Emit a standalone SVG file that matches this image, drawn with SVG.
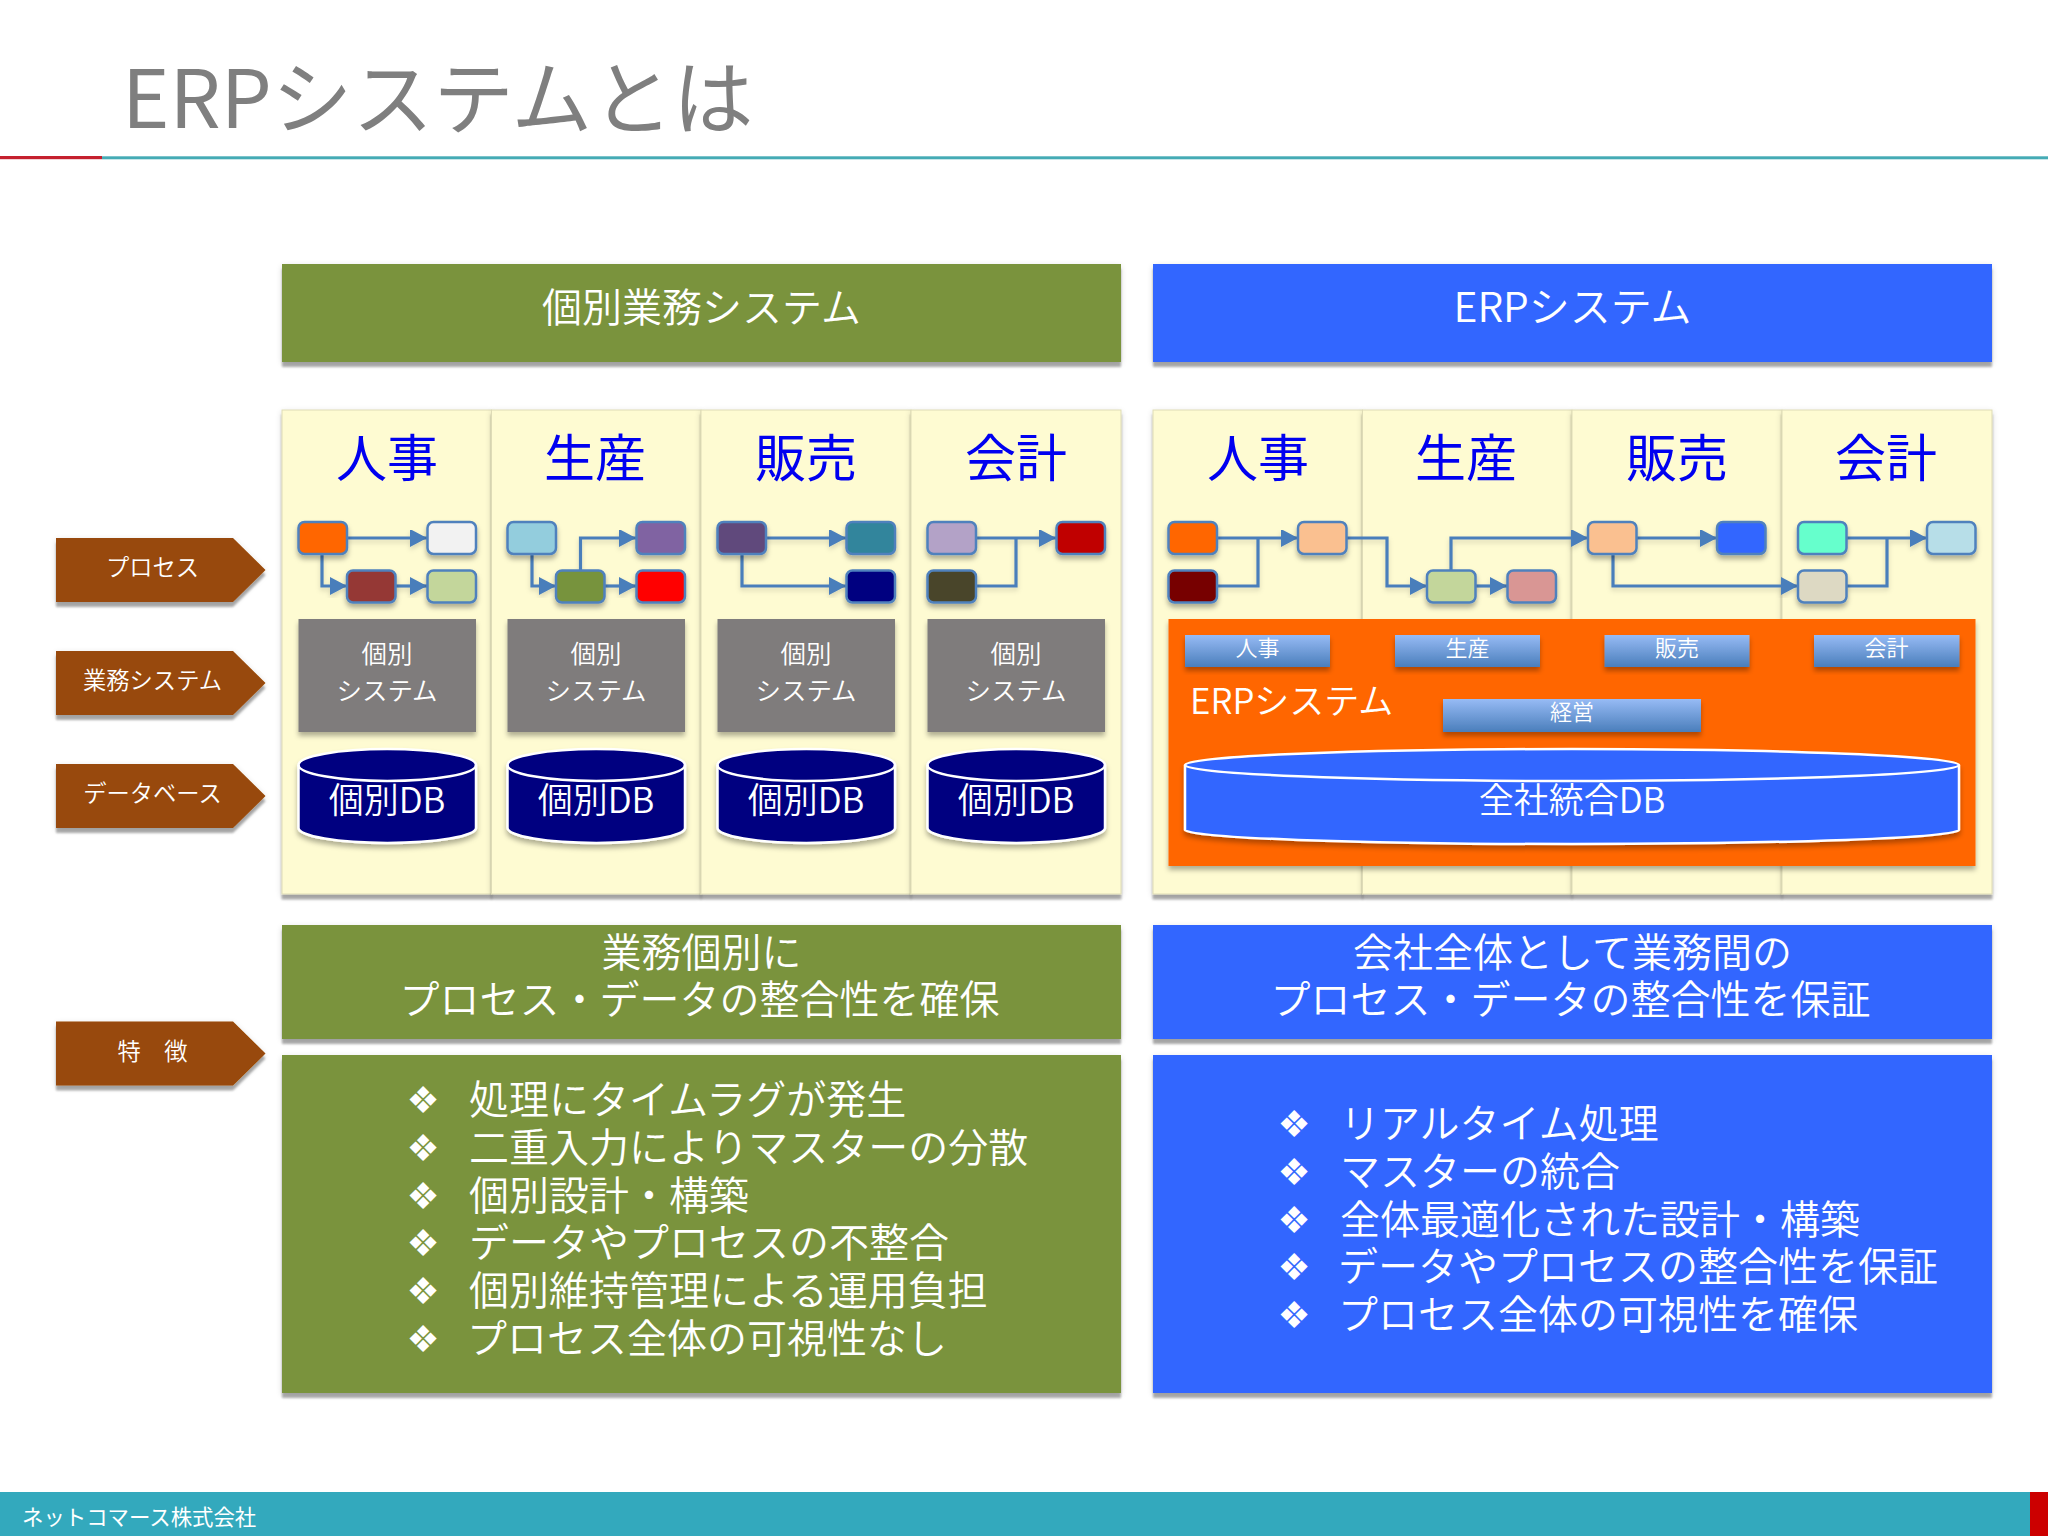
<svg xmlns="http://www.w3.org/2000/svg" width="2048" height="1536" viewBox="0 0 2048 1536">
<style>
text{font-family:"Noto Sans CJK JP","Noto Sans",sans-serif;font-weight:350;fill:#fff;text-anchor:middle}
.olive{fill:#7A933C}.blue{fill:#3366FF}
.col{fill:#FEFBD2;stroke:#DEDBB6;stroke-width:1}
.h{font-size:40px}.l{text-anchor:start;font-size:40px}
.b{font-family:"DejaVu Sans",sans-serif;font-size:37px;font-weight:400}
.tag{fill:#984807}.tagt{font-size:23.3px}
.dept{font-size:51px;fill:#0000F0;font-weight:400}
.n{stroke:#4F81BD;stroke-width:2.5}
.sys{fill:#7F7C7C}.syst{font-size:25.5px}
.db{fill:#000080;stroke:#fff;stroke-width:2.5}.dbt{font-size:35px}
.bar{fill:url(#bg)}.bart{font-size:22px}
.c{fill:none;stroke:#4A7EBB;stroke-width:3.2;marker-end:url(#ah)}
.p{fill:none;stroke:#4A7EBB;stroke-width:3.2}
</style>
<defs>
<filter id="s" x="-10%" y="-10%" width="120%" height="125%"><feGaussianBlur in="SourceAlpha" stdDeviation="3" result="g"/><feOffset in="g" dy="2" result="g2"/><feComponentTransfer in="g2" result="g3"><feFuncA type="linear" slope="0.15"/></feComponentTransfer><feDropShadow in="SourceGraphic" dx="0" dy="5" stdDeviation="1.2" flood-color="#000" flood-opacity="0.3" result="d"/><feMerge><feMergeNode in="g3"/><feMergeNode in="d"/></feMerge></filter>
<filter id="t" x="-15%" y="-15%" width="130%" height="140%"><feDropShadow dx="0" dy="4" stdDeviation="2.5" flood-color="#000" flood-opacity="0.3"/></filter>
<filter id="u" x="-15%" y="-15%" width="130%" height="140%"><feDropShadow dx="0" dy="3" stdDeviation="2.5" flood-color="#000" flood-opacity="0.15"/></filter>
<linearGradient id="bg" x1="0" y1="0" x2="0" y2="1"><stop offset="0" stop-color="#97BBF5"/><stop offset="1" stop-color="#4A7EBB"/></linearGradient>
<marker id="ah" markerUnits="userSpaceOnUse" markerWidth="18" markerHeight="18" refX="17" refY="9" orient="auto"><path d="M0 0L17 9L0 18Z" fill="#4A7EBB"/></marker>
</defs>
<rect width="2048" height="1536" fill="#fff"/>
<g id="title">
<text x="122" y="128" font-size="80.7" style="fill:#7F7F7F;text-anchor:start;font-weight:400">ERPシステムとは</text>
<rect x="0" y="156" width="102" height="3.2" fill="#C5202E"/>
<rect x="102" y="156.3" width="1946" height="3" fill="#45ABB5"/>
</g>
<g id="footer">
<rect y="1492" width="2048" height="44" fill="#33A9BD"/>
<rect x="2030" y="1492" width="18" height="44" fill="#CC0000"/>
<text x="22" y="1525" style="font-size:21.4px;text-anchor:start;font-weight:400">ネットコマース株式会社</text>
</g>

<g id="side-tags">
<g id="tag-process"><path class="tag" filter="url(#s)" d="M56 538H233L265.5 570L233 602H56Z"/><text class="tagt" x="152.5" y="576">プロセス</text></g>
<g id="tag-system"><path class="tag" filter="url(#s)" d="M56 651H233L265.5 683L233 715H56Z"/><text class="tagt" x="152.5" y="689">業務システム</text></g>
<g id="tag-db"><path class="tag" filter="url(#s)" d="M56 764H233L265.5 796L233 828H56Z"/><text class="tagt" x="152.5" y="802">データベース</text></g>
<g id="tag-feature"><path class="tag" filter="url(#s)" d="M56 1021.5H233L265.5 1053.5L233 1085.5H56Z"/><text class="tagt" x="152.5" y="1060">特　徴</text></g>
</g>

<g id="left-header"><rect class="olive" filter="url(#s)" x="282" y="264" width="839" height="98"/><text class="h" x="701.5" y="322">個別業務システム</text></g>
<g id="right-header"><rect class="blue" filter="url(#s)" x="1153" y="264" width="839" height="98"/><text x="1572.5" y="322" style="font-size:41px">ERPシステム</text></g>

<g id="left-columns">
<rect class="col" filter="url(#s)" x="282" y="410" width="209.5" height="484"/>
<rect class="col" filter="url(#s)" x="491.5" y="410" width="209.5" height="484"/>
<rect class="col" filter="url(#s)" x="701" y="410" width="210" height="484"/>
<rect class="col" filter="url(#s)" x="911" y="410" width="210" height="484"/>
<text class="dept" x="387" y="477">人事</text><text class="dept" x="595" y="477">生産</text><text class="dept" x="806" y="477">販売</text><text class="dept" x="1016" y="477">会計</text>
</g>
<g id="right-columns">
<rect class="col" filter="url(#s)" x="1153" y="410" width="209.5" height="484"/>
<rect class="col" filter="url(#s)" x="1362.5" y="410" width="209.5" height="484"/>
<rect class="col" filter="url(#s)" x="1572" y="410" width="210" height="484"/>
<rect class="col" filter="url(#s)" x="1782" y="410" width="210" height="484"/>
<text class="dept" x="1258" y="477">人事</text><text class="dept" x="1466" y="477">生産</text><text class="dept" x="1677" y="477">販売</text><text class="dept" x="1886" y="477">会計</text>
</g>

<g id="connectors" filter="url(#u)">
<path class="c" d="M347 538H427"/><path class="c" d="M322 554V586H347"/><path class="c" d="M395 586H427"/>
<path class="c" d="M532 554V586H556"/><path class="c" d="M580.5 570V538H636"/><path class="c" d="M605 586H636"/>
<path class="c" d="M766 538H846"/><path class="c" d="M742 554V586H846"/>
<path class="c" d="M976 538H1056"/><path class="p" d="M976 586H1016V538"/>
<path class="c" d="M1217 538H1298"/><path class="p" d="M1217 586H1258V538"/>
<path class="c" d="M1346 538H1387V586H1427"/><path class="c" d="M1451 570V538H1588"/><path class="c" d="M1475 586H1507"/>
<path class="c" d="M1637 538H1717"/><path class="c" d="M1613 554V586H1798"/>
<path class="c" d="M1846 538H1927"/><path class="p" d="M1846 586H1887V538"/>
</g>

<g id="l-process-nodes" filter="url(#t)">
<g id="l1a"><rect class="n" x="298.5" y="522" width="48.5" height="32" rx="6" fill="#FF6600"/></g>
<g id="l1b"><rect class="n" x="427.5" y="522" width="48.5" height="32" rx="6" fill="#F2F2F2"/></g>
<g id="l1c"><rect class="n" x="347" y="570.5" width="48.5" height="32" rx="6" fill="#953735"/></g>
<g id="l1d"><rect class="n" x="427.5" y="570.5" width="48.5" height="32" rx="6" fill="#C3D69B"/></g>
<g id="l2a"><rect class="n" x="507.5" y="522" width="48.5" height="32" rx="6" fill="#93CDDD"/></g>
<g id="l2b"><rect class="n" x="636.5" y="522" width="48.5" height="32" rx="6" fill="#8064A2"/></g>
<g id="l2c"><rect class="n" x="556" y="570.5" width="48.5" height="32" rx="6" fill="#77933C"/></g>
<g id="l2d"><rect class="n" x="636.5" y="570.5" width="48.5" height="32" rx="6" fill="#FF0000"/></g>
<g id="l3a"><rect class="n" x="717.5" y="522" width="48.5" height="32" rx="6" fill="#604A7B"/></g>
<g id="l3b"><rect class="n" x="846.5" y="522" width="48.5" height="32" rx="6" fill="#31859C"/></g>
<g id="l3c"><rect class="n" x="846.5" y="570.5" width="48.5" height="32" rx="6" fill="#000080"/></g>
<g id="l4a"><rect class="n" x="927.5" y="522" width="48.5" height="32" rx="6" fill="#B3A2C7"/></g>
<g id="l4b"><rect class="n" x="1056.5" y="522" width="48.5" height="32" rx="6" fill="#C00000"/></g>
<g id="l4c"><rect class="n" x="927.5" y="570.5" width="48.5" height="32" rx="6" fill="#4A452A"/></g>
</g>
<g id="r-process-nodes" filter="url(#t)">
<g id="r1a"><rect class="n" x="1168.5" y="522" width="48.5" height="32" rx="6" fill="#FF6600"/></g>
<g id="r1b"><rect class="n" x="1298" y="522" width="48.5" height="32" rx="6" fill="#FAC090"/></g>
<g id="r1c"><rect class="n" x="1168.5" y="570.5" width="48.5" height="32" rx="6" fill="#770000"/></g>
<g id="r2a"><rect class="n" x="1427" y="570.5" width="48.5" height="32" rx="6" fill="#C3D69B"/></g>
<g id="r2b"><rect class="n" x="1507.5" y="570.5" width="48.5" height="32" rx="6" fill="#D99694"/></g>
<g id="r3a"><rect class="n" x="1588" y="522" width="48.5" height="32" rx="6" fill="#FAC090"/></g>
<g id="r3b"><rect class="n" x="1717" y="522" width="48.5" height="32" rx="6" fill="#3366FF"/></g>
<g id="r4a"><rect class="n" x="1798" y="522" width="48.5" height="32" rx="6" fill="#66FFCC"/></g>
<g id="r4b"><rect class="n" x="1927" y="522" width="48.5" height="32" rx="6" fill="#B7DEE8"/></g>
<g id="r4c"><rect class="n" x="1798" y="570.5" width="48.5" height="32" rx="6" fill="#DDD9C3"/></g>
</g>

<g id="sys1"><rect class="sys" filter="url(#t)" x="298.5" y="619" width="177.5" height="113"/><text class="syst" x="387" y="663">個別</text><text class="syst" x="387" y="700">システム</text></g>
<g id="sys2"><rect class="sys" filter="url(#t)" x="507.5" y="619" width="177.5" height="113"/><text class="syst" x="596" y="663">個別</text><text class="syst" x="596" y="700">システム</text></g>
<g id="sys3"><rect class="sys" filter="url(#t)" x="717.5" y="619" width="177.5" height="113"/><text class="syst" x="806" y="663">個別</text><text class="syst" x="806" y="700">システム</text></g>
<g id="sys4"><rect class="sys" filter="url(#t)" x="927.5" y="619" width="177.5" height="113"/><text class="syst" x="1016" y="663">個別</text><text class="syst" x="1016" y="700">システム</text></g>

<g id="db1"><path class="db" filter="url(#t)" d="M298.5 765A88.75 16 0 0 1 476 765V828A88.75 15 0 0 1 298.5 828Z"/><path class="db" style="fill:none" d="M298.5 765A88.75 16 0 0 0 476 765"/><text class="dbt" x="387" y="813">個別DB</text></g>
<g id="db2"><path class="db" filter="url(#t)" d="M507.5 765A88.75 16 0 0 1 685 765V828A88.75 15 0 0 1 507.5 828Z"/><path class="db" style="fill:none" d="M507.5 765A88.75 16 0 0 0 685 765"/><text class="dbt" x="596" y="813">個別DB</text></g>
<g id="db3"><path class="db" filter="url(#t)" d="M717.5 765A88.75 16 0 0 1 895 765V828A88.75 15 0 0 1 717.5 828Z"/><path class="db" style="fill:none" d="M717.5 765A88.75 16 0 0 0 895 765"/><text class="dbt" x="806" y="813">個別DB</text></g>
<g id="db4"><path class="db" filter="url(#t)" d="M927.5 765A88.75 16 0 0 1 1105 765V828A88.75 15 0 0 1 927.5 828Z"/><path class="db" style="fill:none" d="M927.5 765A88.75 16 0 0 0 1105 765"/><text class="dbt" x="1016" y="813">個別DB</text></g>

<g id="erp-panel">
<rect filter="url(#t)" x="1168.5" y="619" width="807" height="247" fill="#FF6600"/>
<text x="1190" y="714" style="font-size:35px;text-anchor:start">ERPシステム</text>
</g>
<g id="m1"><rect class="bar" filter="url(#t)" x="1185" y="635" width="145" height="32"/><text class="bart" x="1257.5" y="656">人事</text></g>
<g id="m2"><rect class="bar" filter="url(#t)" x="1395" y="635" width="145" height="32"/><text class="bart" x="1467.5" y="656">生産</text></g>
<g id="m3"><rect class="bar" filter="url(#t)" x="1604.5" y="635" width="145" height="32"/><text class="bart" x="1677" y="656">販売</text></g>
<g id="m4"><rect class="bar" filter="url(#t)" x="1814" y="635" width="145.5" height="32"/><text class="bart" x="1886.5" y="656">会計</text></g>
<g id="m5"><rect class="bar" filter="url(#t)" x="1443" y="699" width="258" height="33"/><text class="bart" x="1572" y="720">経営</text></g>
<g id="erp-db"><path class="db" filter="url(#t)" style="fill:#3366FF" d="M1185 765A387 16 0 0 1 1959 765V830A387 14 0 0 1 1185 830Z"/><path class="db" style="fill:none" d="M1185 765A387 16 0 0 0 1959 765"/><text x="1572" y="813" style="font-size:35px">全社統合DB</text></g>

<g id="left-summary"><rect class="olive" filter="url(#s)" x="282" y="925" width="839" height="114"/><text class="h" x="701.5" y="967">業務個別に</text><text class="h" x="699.5" y="1014">プロセス・データの整合性を確保</text></g>
<g id="right-summary"><rect class="blue" filter="url(#s)" x="1153" y="925" width="839" height="114"/><text class="h" x="1572.5" y="967">会社全体として業務間の</text><text class="h" x="1570.5" y="1014">プロセス・データの整合性を保証</text></g>

<g id="left-list"><rect class="olive" filter="url(#s)" x="282" y="1055" width="839" height="338"/>
<text class="b" x="423" y="1113">❖</text><text class="l" x="469" y="1114">処理にタイムラグが発生</text>
<text class="b" x="423" y="1161">❖</text><text class="l" x="469" y="1162">二重入力によりマスターの分散</text>
<text class="b" x="423" y="1208.5">❖</text><text class="l" x="469" y="1209.5">個別設計・構築</text>
<text class="b" x="423" y="1256">❖</text><text class="l" x="469" y="1257">データやプロセスの不整合</text>
<text class="b" x="423" y="1304">❖</text><text class="l" x="469" y="1305">個別維持管理による運用負担</text>
<text class="b" x="423" y="1351.5">❖</text><text class="l" x="467" y="1352.5">プロセス全体の可視性なし</text>
</g>
<g id="right-list"><rect class="blue" filter="url(#s)" x="1153" y="1055" width="839" height="338"/>
<text class="b" x="1294" y="1137">❖</text><text class="l" x="1340" y="1138">リアルタイム処理</text>
<text class="b" x="1294" y="1185">❖</text><text class="l" x="1340" y="1186">マスターの統合</text>
<text class="b" x="1294" y="1232.5">❖</text><text class="l" x="1340" y="1233.5">全体最適化された設計・構築</text>
<text class="b" x="1294" y="1280">❖</text><text class="l" x="1338" y="1281">データやプロセスの整合性を保証</text>
<text class="b" x="1294" y="1328">❖</text><text class="l" x="1338" y="1329">プロセス全体の可視性を確保</text>
</g>
</svg>
